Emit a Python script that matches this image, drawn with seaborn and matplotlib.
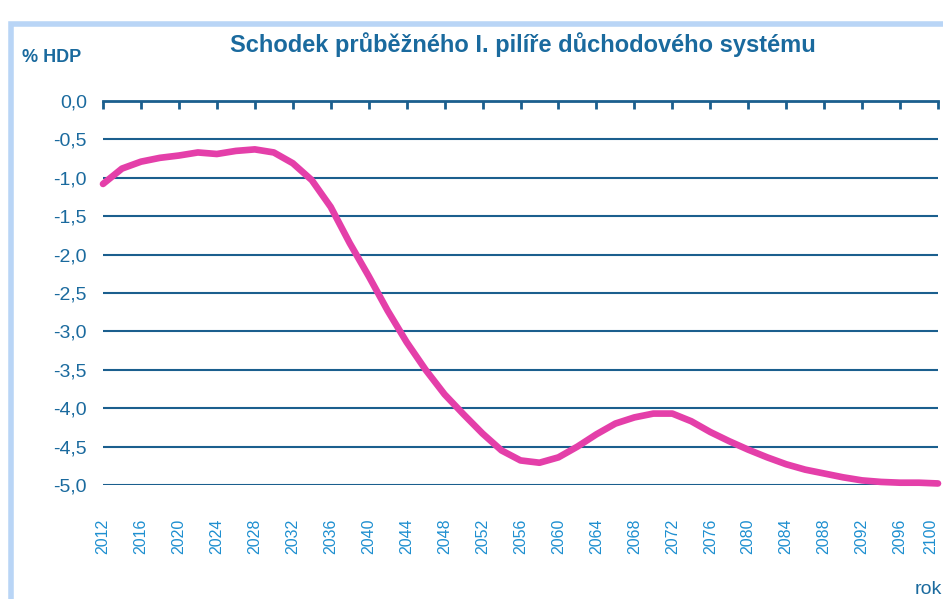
import matplotlib
matplotlib.use("Agg")
import matplotlib.pyplot as plt
import seaborn as sns
import pandas as pd
from matplotlib.patches import Rectangle

years = [2012, 2014, 2016, 2018, 2020, 2022, 2024, 2026, 2028, 2030,
         2032, 2034, 2036, 2038, 2040, 2042, 2044, 2046, 2048, 2050,
         2052, 2054, 2056, 2058, 2060, 2062, 2064, 2066, 2068, 2070,
         2072, 2074, 2076, 2078, 2080, 2082, 2084, 2086, 2088, 2090,
         2092, 2094, 2096, 2098, 2100]
deficit = [-1.08, -0.88, -0.79, -0.74, -0.71, -0.67, -0.69, -0.65, -0.63, -0.67,
           -0.81, -1.03, -1.38, -1.85, -2.28, -2.73, -3.14, -3.50, -3.82, -4.08,
           -4.33, -4.55, -4.68, -4.71, -4.64, -4.50, -4.34, -4.20, -4.12, -4.07,
           -4.07, -4.17, -4.31, -4.43, -4.54, -4.64, -4.73, -4.80, -4.85, -4.90,
           -4.94, -4.96, -4.97, -4.97, -4.98]
x_ticks = list(range(2012, 2101, 4))
y_ticks = [0.0, -0.5, -1.0, -1.5, -2.0, -2.5, -3.0, -3.5, -4.0, -4.5, -5.0]
y_tick_labels = ["0,0", "-0,5", "-1,0", "-1,5", "-2,0", "-2,5", "-3,0", "-3,5", "-4,0", "-4,5", "-5,0"]
title = "Schodek průběžného I. pilíře důchodového systému"

df = pd.DataFrame({"rok": years, "schodek": deficit})

sns.set_style("white")
plt.rcParams['font.family'] = ['Liberation Sans', 'DejaVu Sans']

fig = plt.figure(figsize=(9.43, 5.99), dpi=100)
ax = fig.add_axes([103/943, 1-485/599, 835/943, 384/599])

grid_c = "#1b5f8e"
label_c = "#1a6a9e"
xlab_c = "#1e8fd0"

ax.set_xlim(2012, 2100)
ax.set_ylim(-5.0, 0.0)
ax.set_yticks(y_ticks)
ax.set_yticklabels(y_tick_labels)
ax.set_xticks(x_ticks)
ax.set_xticklabels([str(t) for t in x_ticks], rotation=90)
ax.get_xticklabels()[-1].set_horizontalalignment("right")

ax.yaxis.grid(True, color=grid_c, linewidth=1.5)
ax.xaxis.grid(False)
for s in ["left", "right", "bottom"]:
    ax.spines[s].set_visible(False)
ax.spines["top"].set_visible(True)
ax.spines["top"].set_color(grid_c)
ax.spines["top"].set_linewidth(2.0)

ax.tick_params(axis='x', top=True, bottom=False, labeltop=False, labelbottom=True,
               direction='in', length=6, width=2, color=grid_c, labelsize=11.5,
               labelcolor=xlab_c, pad=24)
ax.tick_params(axis='y', left=False, labelsize=14, labelcolor=label_c, pad=8)

sns.lineplot(data=df, x="rok", y="schodek", ax=ax, color="#e43fa9",
             linewidth=4.8, clip_on=False, zorder=5,
             solid_joinstyle="round", solid_capstyle="round")
ax.set_xlabel("")
ax.set_ylabel("")

fig.text(0.554, 1-45/599, title, ha="center", va="center", fontsize=17,
         color=label_c, fontweight="bold")
fig.text(22/943, 1-58/599, "% HDP", ha="left", va="center", fontsize=13,
         color=label_c, fontweight="bold")
fig.text(915/943, 1-590/599, "rok", ha="left", va="center", fontsize=14,
         color=label_c)

# light blue frame at top and left
fig.patches.append(Rectangle((11/943, -0.05), 1.2, 1 - 24/599 + 0.05,
                             transform=fig.transFigure, fill=False,
                             edgecolor="#b9d5f6", linewidth=4, zorder=0))

fig.savefig("out.png", dpi=100)
